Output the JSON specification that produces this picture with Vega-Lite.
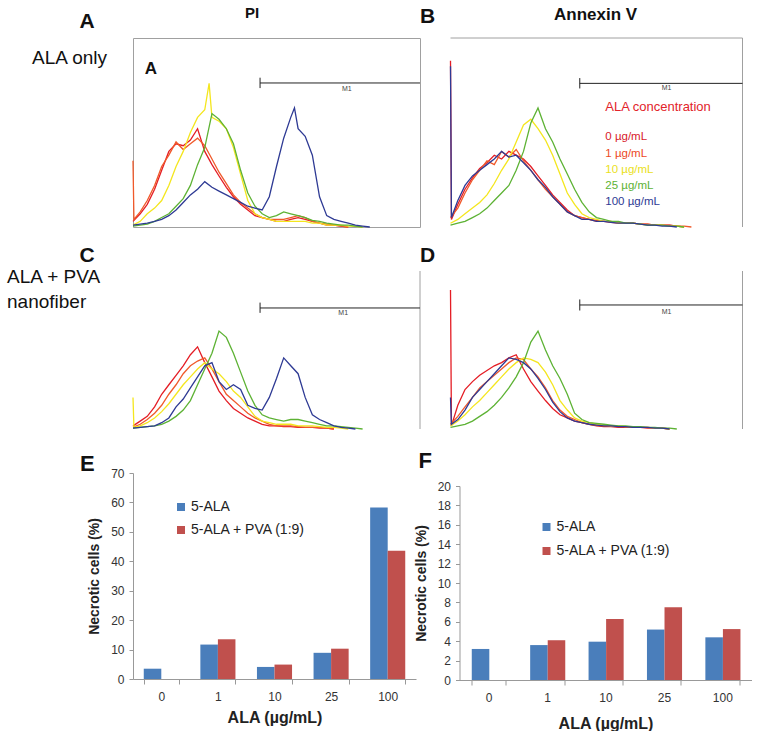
{
"background":"white",
"padding":{"left":7,"top":5,"right":0,"bottom":0},
"spacing":-7.5,
"config":{"font":"Liberation Sans","view":{"stroke":null},"axis":{"grid":false,"labelFont":"Liberation Sans","titleFont":"Liberation Sans"},"text":{"font":"Liberation Sans"},"title":{"font":"Liberation Sans"}},
"resolve":{"scale":{"color":"independent"},"legend":{"color":"independent"}},
"datasets":{
"h":[
{"p":"A","c":"0","x":1,"y":3},{"p":"A","c":"0","x":1.26,"y":7},{"p":"A","c":"0","x":1.58,"y":12},{"p":"A","c":"0","x":2,"y":20},{"p":"A","c":"0","x":2.51,"y":30},{"p":"A","c":"0","x":3.16,"y":40},{"p":"A","c":"0","x":3.98,"y":44},{"p":"A","c":"0","x":5.01,"y":43},{"p":"A","c":"0","x":6.31,"y":46},{"p":"A","c":"0","x":7.94,"y":52},{"p":"A","c":"0","x":10,"y":40},{"p":"A","c":"0","x":12.6,"y":33},{"p":"A","c":"0","x":15.8,"y":27},{"p":"A","c":"0","x":20,"y":21},{"p":"A","c":"0","x":25.1,"y":16},{"p":"A","c":"0","x":31.6,"y":12},{"p":"A","c":"0","x":39.8,"y":9},{"p":"A","c":"0","x":50.1,"y":6},{"p":"A","c":"0","x":63.1,"y":5},{"p":"A","c":"0","x":79.4,"y":4},{"p":"A","c":"0","x":100,"y":3},{"p":"A","c":"0","x":126,"y":3},{"p":"A","c":"0","x":158,"y":4},{"p":"A","c":"0","x":200,"y":5},{"p":"A","c":"0","x":251,"y":4},{"p":"A","c":"0","x":316,"y":3},{"p":"A","c":"0","x":398,"y":2},{"p":"A","c":"0","x":501,"y":1},{"p":"A","c":"0","x":631,"y":1},{"p":"A","c":"0","x":794,"y":0.5},{"p":"A","c":"0","x":1000,"y":0},
{"p":"A","c":"1","x":1,"y":35},{"p":"A","c":"1","x":1.03,"y":4},{"p":"A","c":"1","x":1.26,"y":8},{"p":"A","c":"1","x":1.58,"y":14},{"p":"A","c":"1","x":2,"y":22},{"p":"A","c":"1","x":2.51,"y":32},{"p":"A","c":"1","x":3.16,"y":38},{"p":"A","c":"1","x":3.98,"y":45},{"p":"A","c":"1","x":5.01,"y":41},{"p":"A","c":"1","x":6.31,"y":44},{"p":"A","c":"1","x":7.94,"y":47},{"p":"A","c":"1","x":10,"y":43},{"p":"A","c":"1","x":12.6,"y":36},{"p":"A","c":"1","x":15.8,"y":29},{"p":"A","c":"1","x":20,"y":23},{"p":"A","c":"1","x":25.1,"y":17},{"p":"A","c":"1","x":31.6,"y":13},{"p":"A","c":"1","x":39.8,"y":10},{"p":"A","c":"1","x":50.1,"y":7},{"p":"A","c":"1","x":63.1,"y":5},{"p":"A","c":"1","x":79.4,"y":4},{"p":"A","c":"1","x":100,"y":4},{"p":"A","c":"1","x":126,"y":4},{"p":"A","c":"1","x":158,"y":5},{"p":"A","c":"1","x":200,"y":6},{"p":"A","c":"1","x":251,"y":5},{"p":"A","c":"1","x":316,"y":3},{"p":"A","c":"1","x":398,"y":2},{"p":"A","c":"1","x":501,"y":1.5},{"p":"A","c":"1","x":631,"y":1},{"p":"A","c":"1","x":794,"y":0.5},{"p":"A","c":"1","x":1000,"y":0},
{"p":"A","c":"10","x":1,"y":1},{"p":"A","c":"10","x":1.26,"y":3},{"p":"A","c":"10","x":1.58,"y":7},{"p":"A","c":"10","x":2,"y":10},{"p":"A","c":"10","x":2.51,"y":14},{"p":"A","c":"10","x":3.16,"y":22},{"p":"A","c":"10","x":3.98,"y":32},{"p":"A","c":"10","x":5.01,"y":40},{"p":"A","c":"10","x":6.31,"y":50},{"p":"A","c":"10","x":7.94,"y":58},{"p":"A","c":"10","x":10,"y":62},{"p":"A","c":"10","x":11.5,"y":76},{"p":"A","c":"10","x":12.6,"y":58},{"p":"A","c":"10","x":15.8,"y":56},{"p":"A","c":"10","x":20,"y":52},{"p":"A","c":"10","x":25.1,"y":42},{"p":"A","c":"10","x":31.6,"y":28},{"p":"A","c":"10","x":39.8,"y":14},{"p":"A","c":"10","x":50.1,"y":7},{"p":"A","c":"10","x":63.1,"y":5},{"p":"A","c":"10","x":79.4,"y":4},{"p":"A","c":"10","x":100,"y":3},{"p":"A","c":"10","x":126,"y":3},{"p":"A","c":"10","x":158,"y":3},{"p":"A","c":"10","x":200,"y":3},{"p":"A","c":"10","x":251,"y":3},{"p":"A","c":"10","x":316,"y":2},{"p":"A","c":"10","x":398,"y":2},{"p":"A","c":"10","x":501,"y":1},{"p":"A","c":"10","x":631,"y":1},{"p":"A","c":"10","x":794,"y":1},{"p":"A","c":"10","x":1000,"y":0.5},{"p":"A","c":"10","x":1259,"y":0.3},{"p":"A","c":"10","x":1585,"y":0},
{"p":"A","c":"25","x":1,"y":0.5},{"p":"A","c":"25","x":1.26,"y":1},{"p":"A","c":"25","x":1.58,"y":1.5},{"p":"A","c":"25","x":2,"y":3},{"p":"A","c":"25","x":2.51,"y":5},{"p":"A","c":"25","x":3.16,"y":7},{"p":"A","c":"25","x":3.98,"y":11},{"p":"A","c":"25","x":5.01,"y":15},{"p":"A","c":"25","x":6.31,"y":22},{"p":"A","c":"25","x":7.94,"y":33},{"p":"A","c":"25","x":10,"y":42},{"p":"A","c":"25","x":12.6,"y":60},{"p":"A","c":"25","x":15.8,"y":57},{"p":"A","c":"25","x":20,"y":52},{"p":"A","c":"25","x":25.1,"y":44},{"p":"A","c":"25","x":31.6,"y":30},{"p":"A","c":"25","x":39.8,"y":18},{"p":"A","c":"25","x":50.1,"y":11},{"p":"A","c":"25","x":63.1,"y":7},{"p":"A","c":"25","x":79.4,"y":5},{"p":"A","c":"25","x":100,"y":6},{"p":"A","c":"25","x":126,"y":8},{"p":"A","c":"25","x":158,"y":7},{"p":"A","c":"25","x":200,"y":6},{"p":"A","c":"25","x":251,"y":5},{"p":"A","c":"25","x":316,"y":3.5},{"p":"A","c":"25","x":398,"y":3},{"p":"A","c":"25","x":501,"y":2},{"p":"A","c":"25","x":631,"y":1.5},{"p":"A","c":"25","x":794,"y":1},{"p":"A","c":"25","x":1000,"y":1},{"p":"A","c":"25","x":1259,"y":0.5},{"p":"A","c":"25","x":1585,"y":0},
{"p":"A","c":"100","x":1,"y":1},{"p":"A","c":"100","x":1.26,"y":1.5},{"p":"A","c":"100","x":1.58,"y":2},{"p":"A","c":"100","x":2,"y":3},{"p":"A","c":"100","x":2.51,"y":4},{"p":"A","c":"100","x":3.16,"y":6},{"p":"A","c":"100","x":3.98,"y":9},{"p":"A","c":"100","x":5.01,"y":13},{"p":"A","c":"100","x":6.31,"y":17},{"p":"A","c":"100","x":7.94,"y":20},{"p":"A","c":"100","x":10,"y":24},{"p":"A","c":"100","x":12.6,"y":21},{"p":"A","c":"100","x":15.8,"y":19},{"p":"A","c":"100","x":20,"y":17},{"p":"A","c":"100","x":25.1,"y":15},{"p":"A","c":"100","x":31.6,"y":13},{"p":"A","c":"100","x":39.8,"y":11},{"p":"A","c":"100","x":50.1,"y":10},{"p":"A","c":"100","x":63.1,"y":9},{"p":"A","c":"100","x":79.4,"y":16},{"p":"A","c":"100","x":100,"y":32},{"p":"A","c":"100","x":126,"y":47},{"p":"A","c":"100","x":158,"y":58},{"p":"A","c":"100","x":178,"y":63},{"p":"A","c":"100","x":200,"y":52},{"p":"A","c":"100","x":251,"y":48},{"p":"A","c":"100","x":316,"y":38},{"p":"A","c":"100","x":398,"y":16},{"p":"A","c":"100","x":501,"y":6},{"p":"A","c":"100","x":631,"y":4},{"p":"A","c":"100","x":794,"y":3},{"p":"A","c":"100","x":1000,"y":2},{"p":"A","c":"100","x":1259,"y":1},{"p":"A","c":"100","x":1585,"y":0.5},{"p":"A","c":"100","x":1995,"y":0},
{"p":"B","c":"0","x":1,"y":88},{"p":"B","c":"0","x":1.03,"y":4},{"p":"B","c":"0","x":1.26,"y":12},{"p":"B","c":"0","x":1.58,"y":20},{"p":"B","c":"0","x":2,"y":26},{"p":"B","c":"0","x":2.51,"y":31},{"p":"B","c":"0","x":3.16,"y":34},{"p":"B","c":"0","x":3.98,"y":38},{"p":"B","c":"0","x":5.01,"y":36},{"p":"B","c":"0","x":6.31,"y":40},{"p":"B","c":"0","x":7.94,"y":38},{"p":"B","c":"0","x":10,"y":36},{"p":"B","c":"0","x":12.6,"y":32},{"p":"B","c":"0","x":15.8,"y":27},{"p":"B","c":"0","x":20,"y":22},{"p":"B","c":"0","x":25.1,"y":17},{"p":"B","c":"0","x":31.6,"y":13},{"p":"B","c":"0","x":39.8,"y":9},{"p":"B","c":"0","x":50.1,"y":6},{"p":"B","c":"0","x":63.1,"y":5},{"p":"B","c":"0","x":79.4,"y":4},{"p":"B","c":"0","x":100,"y":3.5},{"p":"B","c":"0","x":126,"y":3},{"p":"B","c":"0","x":158,"y":2.5},{"p":"B","c":"0","x":200,"y":2},{"p":"B","c":"0","x":251,"y":2},{"p":"B","c":"0","x":316,"y":2},{"p":"B","c":"0","x":398,"y":1.5},{"p":"B","c":"0","x":501,"y":1.5},{"p":"B","c":"0","x":631,"y":1},{"p":"B","c":"0","x":794,"y":1},{"p":"B","c":"0","x":1000,"y":1},{"p":"B","c":"0","x":1259,"y":0.5},{"p":"B","c":"0","x":1585,"y":0},
{"p":"B","c":"1","x":1,"y":5},{"p":"B","c":"1","x":1.26,"y":10},{"p":"B","c":"1","x":1.58,"y":18},{"p":"B","c":"1","x":2,"y":25},{"p":"B","c":"1","x":2.51,"y":30},{"p":"B","c":"1","x":3.16,"y":35},{"p":"B","c":"1","x":3.98,"y":33},{"p":"B","c":"1","x":5.01,"y":40},{"p":"B","c":"1","x":6.31,"y":37},{"p":"B","c":"1","x":7.94,"y":41},{"p":"B","c":"1","x":10,"y":35},{"p":"B","c":"1","x":12.6,"y":30},{"p":"B","c":"1","x":15.8,"y":25},{"p":"B","c":"1","x":20,"y":20},{"p":"B","c":"1","x":25.1,"y":16},{"p":"B","c":"1","x":31.6,"y":12},{"p":"B","c":"1","x":39.8,"y":8},{"p":"B","c":"1","x":50.1,"y":6},{"p":"B","c":"1","x":63.1,"y":5},{"p":"B","c":"1","x":79.4,"y":4},{"p":"B","c":"1","x":100,"y":3},{"p":"B","c":"1","x":126,"y":3},{"p":"B","c":"1","x":158,"y":3},{"p":"B","c":"1","x":200,"y":2},{"p":"B","c":"1","x":251,"y":2},{"p":"B","c":"1","x":316,"y":2},{"p":"B","c":"1","x":398,"y":1.5},{"p":"B","c":"1","x":501,"y":1.5},{"p":"B","c":"1","x":631,"y":1},{"p":"B","c":"1","x":794,"y":1},{"p":"B","c":"1","x":1000,"y":1},{"p":"B","c":"1","x":1259,"y":0.5},{"p":"B","c":"1","x":1585,"y":0.5},{"p":"B","c":"1","x":1995,"y":0},
{"p":"B","c":"10","x":1,"y":2},{"p":"B","c":"10","x":1.26,"y":4},{"p":"B","c":"10","x":1.58,"y":7},{"p":"B","c":"10","x":2,"y":10},{"p":"B","c":"10","x":2.51,"y":13},{"p":"B","c":"10","x":3.16,"y":17},{"p":"B","c":"10","x":3.98,"y":23},{"p":"B","c":"10","x":5.01,"y":30},{"p":"B","c":"10","x":6.31,"y":36},{"p":"B","c":"10","x":7.94,"y":45},{"p":"B","c":"10","x":10,"y":54},{"p":"B","c":"10","x":12.6,"y":57},{"p":"B","c":"10","x":15.8,"y":52},{"p":"B","c":"10","x":20,"y":46},{"p":"B","c":"10","x":25.1,"y":38},{"p":"B","c":"10","x":31.6,"y":28},{"p":"B","c":"10","x":39.8,"y":18},{"p":"B","c":"10","x":50.1,"y":12},{"p":"B","c":"10","x":63.1,"y":7},{"p":"B","c":"10","x":79.4,"y":5},{"p":"B","c":"10","x":100,"y":4},{"p":"B","c":"10","x":126,"y":3},{"p":"B","c":"10","x":158,"y":3},{"p":"B","c":"10","x":200,"y":2},{"p":"B","c":"10","x":251,"y":2},{"p":"B","c":"10","x":316,"y":2},{"p":"B","c":"10","x":398,"y":1.5},{"p":"B","c":"10","x":501,"y":1},{"p":"B","c":"10","x":631,"y":1},{"p":"B","c":"10","x":794,"y":1},{"p":"B","c":"10","x":1000,"y":0.5},{"p":"B","c":"10","x":1259,"y":0.5},{"p":"B","c":"10","x":1585,"y":0},
{"p":"B","c":"25","x":1,"y":1},{"p":"B","c":"25","x":1.26,"y":2},{"p":"B","c":"25","x":1.58,"y":3},{"p":"B","c":"25","x":2,"y":5},{"p":"B","c":"25","x":2.51,"y":7},{"p":"B","c":"25","x":3.16,"y":10},{"p":"B","c":"25","x":3.98,"y":14},{"p":"B","c":"25","x":5.01,"y":18},{"p":"B","c":"25","x":6.31,"y":22},{"p":"B","c":"25","x":7.94,"y":30},{"p":"B","c":"25","x":10,"y":40},{"p":"B","c":"25","x":12.6,"y":55},{"p":"B","c":"25","x":15.8,"y":63},{"p":"B","c":"25","x":20,"y":52},{"p":"B","c":"25","x":25.1,"y":45},{"p":"B","c":"25","x":31.6,"y":36},{"p":"B","c":"25","x":39.8,"y":28},{"p":"B","c":"25","x":50.1,"y":20},{"p":"B","c":"25","x":63.1,"y":13},{"p":"B","c":"25","x":79.4,"y":8},{"p":"B","c":"25","x":100,"y":5},{"p":"B","c":"25","x":126,"y":4},{"p":"B","c":"25","x":158,"y":3},{"p":"B","c":"25","x":200,"y":3},{"p":"B","c":"25","x":251,"y":2},{"p":"B","c":"25","x":316,"y":2},{"p":"B","c":"25","x":398,"y":1.5},{"p":"B","c":"25","x":501,"y":1},{"p":"B","c":"25","x":631,"y":1},{"p":"B","c":"25","x":794,"y":1},{"p":"B","c":"25","x":1000,"y":0.5},{"p":"B","c":"25","x":1259,"y":0.5},{"p":"B","c":"25","x":1585,"y":0},
{"p":"B","c":"100","x":1,"y":85},{"p":"B","c":"100","x":1.03,"y":5},{"p":"B","c":"100","x":1.26,"y":14},{"p":"B","c":"100","x":1.58,"y":22},{"p":"B","c":"100","x":2,"y":27},{"p":"B","c":"100","x":2.51,"y":30},{"p":"B","c":"100","x":3.16,"y":33},{"p":"B","c":"100","x":3.98,"y":36},{"p":"B","c":"100","x":5.01,"y":40},{"p":"B","c":"100","x":6.31,"y":37},{"p":"B","c":"100","x":7.94,"y":38},{"p":"B","c":"100","x":10,"y":34},{"p":"B","c":"100","x":12.6,"y":30},{"p":"B","c":"100","x":15.8,"y":25},{"p":"B","c":"100","x":20,"y":21},{"p":"B","c":"100","x":25.1,"y":16},{"p":"B","c":"100","x":31.6,"y":12},{"p":"B","c":"100","x":39.8,"y":8},{"p":"B","c":"100","x":50.1,"y":6},{"p":"B","c":"100","x":63.1,"y":4},{"p":"B","c":"100","x":79.4,"y":4},{"p":"B","c":"100","x":100,"y":3},{"p":"B","c":"100","x":126,"y":3},{"p":"B","c":"100","x":158,"y":2.5},{"p":"B","c":"100","x":200,"y":2},{"p":"B","c":"100","x":251,"y":2},{"p":"B","c":"100","x":316,"y":2},{"p":"B","c":"100","x":398,"y":1.5},{"p":"B","c":"100","x":501,"y":1},{"p":"B","c":"100","x":631,"y":1},{"p":"B","c":"100","x":794,"y":0.5},{"p":"B","c":"100","x":1000,"y":0.5},{"p":"B","c":"100","x":1259,"y":0},
{"p":"C","c":"0","x":1,"y":2},{"p":"C","c":"0","x":1.26,"y":5},{"p":"C","c":"0","x":1.58,"y":8},{"p":"C","c":"0","x":2,"y":14},{"p":"C","c":"0","x":2.51,"y":22},{"p":"C","c":"0","x":3.16,"y":28},{"p":"C","c":"0","x":3.98,"y":34},{"p":"C","c":"0","x":5.01,"y":40},{"p":"C","c":"0","x":6.31,"y":47},{"p":"C","c":"0","x":7.94,"y":52},{"p":"C","c":"0","x":10,"y":42},{"p":"C","c":"0","x":12.6,"y":33},{"p":"C","c":"0","x":15.8,"y":24},{"p":"C","c":"0","x":20,"y":18},{"p":"C","c":"0","x":25.1,"y":13},{"p":"C","c":"0","x":31.6,"y":10},{"p":"C","c":"0","x":39.8,"y":7},{"p":"C","c":"0","x":50.1,"y":5},{"p":"C","c":"0","x":63.1,"y":3},{"p":"C","c":"0","x":79.4,"y":2},{"p":"C","c":"0","x":100,"y":2},{"p":"C","c":"0","x":126,"y":1.5},{"p":"C","c":"0","x":158,"y":1.5},{"p":"C","c":"0","x":200,"y":1},{"p":"C","c":"0","x":251,"y":1},{"p":"C","c":"0","x":316,"y":1},{"p":"C","c":"0","x":398,"y":0.5},{"p":"C","c":"0","x":501,"y":0.5},{"p":"C","c":"0","x":631,"y":0},
{"p":"C","c":"1","x":1,"y":1},{"p":"C","c":"1","x":1.26,"y":3},{"p":"C","c":"1","x":1.58,"y":6},{"p":"C","c":"1","x":2,"y":10},{"p":"C","c":"1","x":2.51,"y":15},{"p":"C","c":"1","x":3.16,"y":22},{"p":"C","c":"1","x":3.98,"y":28},{"p":"C","c":"1","x":5.01,"y":35},{"p":"C","c":"1","x":6.31,"y":40},{"p":"C","c":"1","x":7.94,"y":43},{"p":"C","c":"1","x":10,"y":45},{"p":"C","c":"1","x":12.6,"y":38},{"p":"C","c":"1","x":15.8,"y":30},{"p":"C","c":"1","x":20,"y":22},{"p":"C","c":"1","x":25.1,"y":18},{"p":"C","c":"1","x":31.6,"y":14},{"p":"C","c":"1","x":39.8,"y":10},{"p":"C","c":"1","x":50.1,"y":7},{"p":"C","c":"1","x":63.1,"y":5},{"p":"C","c":"1","x":79.4,"y":3},{"p":"C","c":"1","x":100,"y":2},{"p":"C","c":"1","x":126,"y":2},{"p":"C","c":"1","x":158,"y":2},{"p":"C","c":"1","x":200,"y":1.5},{"p":"C","c":"1","x":251,"y":1},{"p":"C","c":"1","x":316,"y":1},{"p":"C","c":"1","x":398,"y":1},{"p":"C","c":"1","x":501,"y":0.5},{"p":"C","c":"1","x":631,"y":0},
{"p":"C","c":"10","x":1,"y":20},{"p":"C","c":"10","x":1.03,"y":1},{"p":"C","c":"10","x":1.26,"y":2},{"p":"C","c":"10","x":1.58,"y":4},{"p":"C","c":"10","x":2,"y":7},{"p":"C","c":"10","x":2.51,"y":11},{"p":"C","c":"10","x":3.16,"y":16},{"p":"C","c":"10","x":3.98,"y":22},{"p":"C","c":"10","x":5.01,"y":28},{"p":"C","c":"10","x":6.31,"y":33},{"p":"C","c":"10","x":7.94,"y":38},{"p":"C","c":"10","x":10,"y":42},{"p":"C","c":"10","x":12.6,"y":38},{"p":"C","c":"10","x":15.8,"y":35},{"p":"C","c":"10","x":20,"y":30},{"p":"C","c":"10","x":25.1,"y":24},{"p":"C","c":"10","x":31.6,"y":20},{"p":"C","c":"10","x":39.8,"y":14},{"p":"C","c":"10","x":50.1,"y":8},{"p":"C","c":"10","x":63.1,"y":5},{"p":"C","c":"10","x":79.4,"y":4},{"p":"C","c":"10","x":100,"y":3},{"p":"C","c":"10","x":126,"y":3},{"p":"C","c":"10","x":158,"y":3},{"p":"C","c":"10","x":200,"y":2},{"p":"C","c":"10","x":251,"y":2},{"p":"C","c":"10","x":316,"y":2},{"p":"C","c":"10","x":398,"y":1.5},{"p":"C","c":"10","x":501,"y":1},{"p":"C","c":"10","x":631,"y":1},{"p":"C","c":"10","x":794,"y":0.5},{"p":"C","c":"10","x":1000,"y":0},
{"p":"C","c":"25","x":1,"y":0.5},{"p":"C","c":"25","x":1.26,"y":1},{"p":"C","c":"25","x":1.58,"y":1.5},{"p":"C","c":"25","x":2,"y":2},{"p":"C","c":"25","x":2.51,"y":3},{"p":"C","c":"25","x":3.16,"y":5},{"p":"C","c":"25","x":3.98,"y":8},{"p":"C","c":"25","x":5.01,"y":12},{"p":"C","c":"25","x":6.31,"y":18},{"p":"C","c":"25","x":7.94,"y":28},{"p":"C","c":"25","x":10,"y":38},{"p":"C","c":"25","x":12.6,"y":48},{"p":"C","c":"25","x":15.8,"y":62},{"p":"C","c":"25","x":20,"y":58},{"p":"C","c":"25","x":25.1,"y":48},{"p":"C","c":"25","x":31.6,"y":36},{"p":"C","c":"25","x":39.8,"y":24},{"p":"C","c":"25","x":50.1,"y":15},{"p":"C","c":"25","x":63.1,"y":9},{"p":"C","c":"25","x":79.4,"y":7},{"p":"C","c":"25","x":100,"y":6},{"p":"C","c":"25","x":126,"y":5},{"p":"C","c":"25","x":158,"y":6},{"p":"C","c":"25","x":200,"y":6},{"p":"C","c":"25","x":251,"y":5},{"p":"C","c":"25","x":316,"y":4},{"p":"C","c":"25","x":398,"y":3},{"p":"C","c":"25","x":501,"y":2},{"p":"C","c":"25","x":631,"y":2},{"p":"C","c":"25","x":794,"y":1.5},{"p":"C","c":"25","x":1000,"y":1},{"p":"C","c":"25","x":1259,"y":0.5},{"p":"C","c":"25","x":1585,"y":0},
{"p":"C","c":"100","x":1,"y":0.5},{"p":"C","c":"100","x":1.26,"y":1},{"p":"C","c":"100","x":1.58,"y":1.5},{"p":"C","c":"100","x":2,"y":2},{"p":"C","c":"100","x":2.51,"y":4},{"p":"C","c":"100","x":3.16,"y":7},{"p":"C","c":"100","x":3.98,"y":14},{"p":"C","c":"100","x":5.01,"y":19},{"p":"C","c":"100","x":6.31,"y":26},{"p":"C","c":"100","x":7.94,"y":33},{"p":"C","c":"100","x":10,"y":40},{"p":"C","c":"100","x":12.6,"y":42},{"p":"C","c":"100","x":15.8,"y":30},{"p":"C","c":"100","x":20,"y":25},{"p":"C","c":"100","x":25.1,"y":28},{"p":"C","c":"100","x":31.6,"y":25},{"p":"C","c":"100","x":39.8,"y":15},{"p":"C","c":"100","x":50.1,"y":13},{"p":"C","c":"100","x":63.1,"y":12},{"p":"C","c":"100","x":79.4,"y":20},{"p":"C","c":"100","x":100,"y":32},{"p":"C","c":"100","x":126,"y":45},{"p":"C","c":"100","x":158,"y":40},{"p":"C","c":"100","x":200,"y":35},{"p":"C","c":"100","x":251,"y":20},{"p":"C","c":"100","x":316,"y":9},{"p":"C","c":"100","x":398,"y":6},{"p":"C","c":"100","x":501,"y":4},{"p":"C","c":"100","x":631,"y":2},{"p":"C","c":"100","x":794,"y":1},{"p":"C","c":"100","x":1000,"y":0.5},{"p":"C","c":"100","x":1259,"y":0},
{"p":"D","c":"0","x":1,"y":88},{"p":"D","c":"0","x":1.03,"y":2},{"p":"D","c":"0","x":1.26,"y":15},{"p":"D","c":"0","x":1.58,"y":25},{"p":"D","c":"0","x":2,"y":30},{"p":"D","c":"0","x":2.51,"y":34},{"p":"D","c":"0","x":3.16,"y":37},{"p":"D","c":"0","x":3.98,"y":40},{"p":"D","c":"0","x":5.01,"y":42},{"p":"D","c":"0","x":6.31,"y":45},{"p":"D","c":"0","x":7.94,"y":47},{"p":"D","c":"0","x":10,"y":38},{"p":"D","c":"0","x":12.6,"y":30},{"p":"D","c":"0","x":15.8,"y":24},{"p":"D","c":"0","x":20,"y":18},{"p":"D","c":"0","x":25.1,"y":13},{"p":"D","c":"0","x":31.6,"y":9},{"p":"D","c":"0","x":39.8,"y":7},{"p":"D","c":"0","x":50.1,"y":5},{"p":"D","c":"0","x":63.1,"y":4},{"p":"D","c":"0","x":79.4,"y":3},{"p":"D","c":"0","x":100,"y":2},{"p":"D","c":"0","x":126,"y":1.5},{"p":"D","c":"0","x":158,"y":1.5},{"p":"D","c":"0","x":200,"y":1},{"p":"D","c":"0","x":251,"y":1},{"p":"D","c":"0","x":316,"y":1},{"p":"D","c":"0","x":398,"y":1},{"p":"D","c":"0","x":501,"y":0.5},{"p":"D","c":"0","x":631,"y":0.5},{"p":"D","c":"0","x":794,"y":0.5},{"p":"D","c":"0","x":1000,"y":0},
{"p":"D","c":"1","x":1,"y":3},{"p":"D","c":"1","x":1.26,"y":8},{"p":"D","c":"1","x":1.58,"y":14},{"p":"D","c":"1","x":2,"y":20},{"p":"D","c":"1","x":2.51,"y":26},{"p":"D","c":"1","x":3.16,"y":30},{"p":"D","c":"1","x":3.98,"y":34},{"p":"D","c":"1","x":5.01,"y":38},{"p":"D","c":"1","x":6.31,"y":42},{"p":"D","c":"1","x":7.94,"y":45},{"p":"D","c":"1","x":10,"y":44},{"p":"D","c":"1","x":12.6,"y":38},{"p":"D","c":"1","x":15.8,"y":33},{"p":"D","c":"1","x":20,"y":26},{"p":"D","c":"1","x":25.1,"y":18},{"p":"D","c":"1","x":31.6,"y":12},{"p":"D","c":"1","x":39.8,"y":8},{"p":"D","c":"1","x":50.1,"y":6},{"p":"D","c":"1","x":63.1,"y":4},{"p":"D","c":"1","x":79.4,"y":3},{"p":"D","c":"1","x":100,"y":2.5},{"p":"D","c":"1","x":126,"y":2},{"p":"D","c":"1","x":158,"y":2},{"p":"D","c":"1","x":200,"y":1.5},{"p":"D","c":"1","x":251,"y":1.5},{"p":"D","c":"1","x":316,"y":1},{"p":"D","c":"1","x":398,"y":1},{"p":"D","c":"1","x":501,"y":1},{"p":"D","c":"1","x":631,"y":0.5},{"p":"D","c":"1","x":794,"y":0.5},{"p":"D","c":"1","x":1000,"y":0},
{"p":"D","c":"10","x":1,"y":2},{"p":"D","c":"10","x":1.26,"y":5},{"p":"D","c":"10","x":1.58,"y":9},{"p":"D","c":"10","x":2,"y":14},{"p":"D","c":"10","x":2.51,"y":18},{"p":"D","c":"10","x":3.16,"y":23},{"p":"D","c":"10","x":3.98,"y":28},{"p":"D","c":"10","x":5.01,"y":33},{"p":"D","c":"10","x":6.31,"y":38},{"p":"D","c":"10","x":7.94,"y":42},{"p":"D","c":"10","x":10,"y":45},{"p":"D","c":"10","x":12.6,"y":44},{"p":"D","c":"10","x":15.8,"y":42},{"p":"D","c":"10","x":20,"y":36},{"p":"D","c":"10","x":25.1,"y":28},{"p":"D","c":"10","x":31.6,"y":18},{"p":"D","c":"10","x":39.8,"y":12},{"p":"D","c":"10","x":50.1,"y":7},{"p":"D","c":"10","x":63.1,"y":5},{"p":"D","c":"10","x":79.4,"y":4},{"p":"D","c":"10","x":100,"y":3},{"p":"D","c":"10","x":126,"y":2.5},{"p":"D","c":"10","x":158,"y":2},{"p":"D","c":"10","x":200,"y":2},{"p":"D","c":"10","x":251,"y":1.5},{"p":"D","c":"10","x":316,"y":1.5},{"p":"D","c":"10","x":398,"y":1},{"p":"D","c":"10","x":501,"y":1},{"p":"D","c":"10","x":631,"y":0.5},{"p":"D","c":"10","x":794,"y":0.5},{"p":"D","c":"10","x":1000,"y":0},
{"p":"D","c":"25","x":1,"y":1},{"p":"D","c":"25","x":1.26,"y":2},{"p":"D","c":"25","x":1.58,"y":3},{"p":"D","c":"25","x":2,"y":5},{"p":"D","c":"25","x":2.51,"y":8},{"p":"D","c":"25","x":3.16,"y":11},{"p":"D","c":"25","x":3.98,"y":15},{"p":"D","c":"25","x":5.01,"y":20},{"p":"D","c":"25","x":6.31,"y":26},{"p":"D","c":"25","x":7.94,"y":33},{"p":"D","c":"25","x":10,"y":42},{"p":"D","c":"25","x":12.6,"y":55},{"p":"D","c":"25","x":15.8,"y":62},{"p":"D","c":"25","x":20,"y":50},{"p":"D","c":"25","x":25.1,"y":40},{"p":"D","c":"25","x":31.6,"y":32},{"p":"D","c":"25","x":39.8,"y":22},{"p":"D","c":"25","x":50.1,"y":10},{"p":"D","c":"25","x":63.1,"y":6},{"p":"D","c":"25","x":79.4,"y":4},{"p":"D","c":"25","x":100,"y":3.5},{"p":"D","c":"25","x":126,"y":3},{"p":"D","c":"25","x":158,"y":2.5},{"p":"D","c":"25","x":200,"y":2},{"p":"D","c":"25","x":251,"y":2},{"p":"D","c":"25","x":316,"y":1.5},{"p":"D","c":"25","x":398,"y":1.5},{"p":"D","c":"25","x":501,"y":1},{"p":"D","c":"25","x":631,"y":1},{"p":"D","c":"25","x":794,"y":0.5},{"p":"D","c":"25","x":1000,"y":0.5},{"p":"D","c":"25","x":1259,"y":0},
{"p":"D","c":"100","x":1,"y":20},{"p":"D","c":"100","x":1.03,"y":3},{"p":"D","c":"100","x":1.26,"y":6},{"p":"D","c":"100","x":1.58,"y":12},{"p":"D","c":"100","x":2,"y":20},{"p":"D","c":"100","x":2.51,"y":25},{"p":"D","c":"100","x":3.16,"y":30},{"p":"D","c":"100","x":3.98,"y":35},{"p":"D","c":"100","x":5.01,"y":40},{"p":"D","c":"100","x":6.31,"y":45},{"p":"D","c":"100","x":7.94,"y":44},{"p":"D","c":"100","x":10,"y":42},{"p":"D","c":"100","x":12.6,"y":38},{"p":"D","c":"100","x":15.8,"y":32},{"p":"D","c":"100","x":20,"y":25},{"p":"D","c":"100","x":25.1,"y":17},{"p":"D","c":"100","x":31.6,"y":11},{"p":"D","c":"100","x":39.8,"y":7},{"p":"D","c":"100","x":50.1,"y":5},{"p":"D","c":"100","x":63.1,"y":4},{"p":"D","c":"100","x":79.4,"y":3},{"p":"D","c":"100","x":100,"y":2.5},{"p":"D","c":"100","x":126,"y":2},{"p":"D","c":"100","x":158,"y":2},{"p":"D","c":"100","x":200,"y":1.5},{"p":"D","c":"100","x":251,"y":1.5},{"p":"D","c":"100","x":316,"y":1},{"p":"D","c":"100","x":398,"y":1},{"p":"D","c":"100","x":501,"y":1},{"p":"D","c":"100","x":631,"y":0.5},{"p":"D","c":"100","x":794,"y":0.5},{"p":"D","c":"100","x":1000,"y":0}
],
"bars":[
{"p":"E","a":"0","g":"5-ALA","v":3.5},
{"p":"E","a":"1","g":"5-ALA","v":11.7},{"p":"E","a":"1","g":"5-ALA + PVA (1:9)","v":13.5},
{"p":"E","a":"10","g":"5-ALA","v":4.1},{"p":"E","a":"10","g":"5-ALA + PVA (1:9)","v":4.9},
{"p":"E","a":"25","g":"5-ALA","v":8.9},{"p":"E","a":"25","g":"5-ALA + PVA (1:9)","v":10.3},
{"p":"E","a":"100","g":"5-ALA","v":58.3},{"p":"E","a":"100","g":"5-ALA + PVA (1:9)","v":43.6},
{"p":"F","a":"0","g":"5-ALA","v":3.2},
{"p":"F","a":"1","g":"5-ALA","v":3.6},{"p":"F","a":"1","g":"5-ALA + PVA (1:9)","v":4.1},
{"p":"F","a":"10","g":"5-ALA","v":3.95},{"p":"F","a":"10","g":"5-ALA + PVA (1:9)","v":6.3},
{"p":"F","a":"25","g":"5-ALA","v":5.2},{"p":"F","a":"25","g":"5-ALA + PVA (1:9)","v":7.5},
{"p":"F","a":"100","g":"5-ALA","v":4.4},{"p":"F","a":"100","g":"5-ALA + PVA (1:9)","v":5.25}
]
},
"hconcat":[
{"vconcat":[
{"width":287,"height":189,"view":{"stroke":"#a0a0a0"},
"layer":[
{"data":{"name":"h"},"transform":[{"filter":"datum.p=='A'"}],
"mark":{"type":"line","strokeWidth":1.3},
"encoding":{
"x":{"field":"x","type":"quantitative","scale":{"type":"log","domain":[1,10000],"nice":false},"axis":{"values":[1,2,3,4,5,6,7,8,9,10,20,30,40,50,60,70,80,90,100,200,300,400,500,600,700,800,900,1000,2000,3000,4000,5000,6000,7000,8000,9000,10000],"labelExpr":"datum.value==1?'10⁰':datum.value==10?'10¹':datum.value==100?'10²':datum.value==1000?'10³':datum.value==10000?'10⁴':''","tickSize":{"condition":{"test":"indexof([1,10,100,1000,10000],datum.value)>=0","value":4},"value":2},"labelOverlap":false,"labelFlush":false,"labelFontSize":10,"labelColor":"#333","labelPadding":2,"domainColor":"#444","tickColor":"#444","title":"PI","titleFontSize":14,"titleFontWeight":"bold","titleColor":"#222","titlePadding":5}},
"y":{"field":"y","type":"quantitative","scale":{"domain":[0,100],"nice":false},"axis":{"values":[0,20,40,60,80,100],"tickSize":4,"labelAngle":-90,"labelAlign":"center","labelBaseline":"bottom","labelOverlap":false,"labelFontSize":10,"labelColor":"#333","labelPadding":2,"domainColor":"#444","tickColor":"#444","title":"Counts","titleFontSize":11,"titleFontWeight":"bold","titleColor":"#222","titlePadding":11}},
"color":{"field":"c","type":"nominal","scale":{"domain":["0","1","10","25","100"],"range":["#e41d25","#f0592a","#f4e61e","#5db234","#2e3a94"]},"legend":null}}},
{"data":{"values":[{}]},"mark":{"type":"rule","color":"#222","strokeWidth":1},"encoding":{"x":{"datum":59,"axis":null},"x2":{"datum":10000},"y":{"datum":76.2,"axis":null}}},
{"data":{"values":[{}]},"mark":{"type":"rule","color":"#222","strokeWidth":1},"encoding":{"x":{"datum":59,"axis":null},"y":{"datum":73.5,"axis":null},"y2":{"datum":79}}},
{"data":{"values":[{}]},"mark":{"type":"text","text":"M1","fontSize":7,"color":"#444","align":"center","baseline":"alphabetic"},"encoding":{"x":{"datum":955,"axis":null},"y":{"datum":72,"axis":null}}},
{"data":{"values":[{}]},"mark":{"type":"text","text":"A","fontSize":21,"fontWeight":"bold","color":"#111","align":"center","baseline":"alphabetic"},"encoding":{"x":{"datum":0.229,"axis":null},"y":{"datum":105.3,"axis":null}}},
{"data":{"values":[{}]},"mark":{"type":"text","text":"PI","fontSize":15,"fontWeight":"bold","color":"#111","align":"center","baseline":"alphabetic"},"encoding":{"x":{"datum":45.7,"axis":null},"y":{"datum":110.6,"axis":null}}},
{"data":{"values":[{}]},"mark":{"type":"text","text":"ALA only","fontSize":19,"color":"#111","align":"left","baseline":"alphabetic"},"encoding":{"x":{"datum":0.0391,"axis":null},"y":{"datum":86.2,"axis":null}}},
{"data":{"values":[{}]},"mark":{"type":"text","text":"A","fontSize":17,"fontWeight":"bold","color":"#111","align":"center","baseline":"alphabetic"},"encoding":{"x":{"datum":1.78,"axis":null},"y":{"datum":81,"axis":null}}}
]},
{"width":287,"height":158,
"layer":[
{"data":{"name":"h"},"transform":[{"filter":"datum.p=='C'"}],
"mark":{"type":"line","strokeWidth":1.3},
"encoding":{
"x":{"field":"x","type":"quantitative","scale":{"type":"log","domain":[1,10000],"nice":false},"axis":{"values":[1,2,3,4,5,6,7,8,9,10,20,30,40,50,60,70,80,90,100,200,300,400,500,600,700,800,900,1000,2000,3000,4000,5000,6000,7000,8000,9000,10000],"labelExpr":"datum.value==1?'10⁰':datum.value==10?'10¹':datum.value==100?'10²':datum.value==1000?'10³':datum.value==10000?'10⁴':''","tickSize":{"condition":{"test":"indexof([1,10,100,1000,10000],datum.value)>=0","value":4},"value":2},"labelOverlap":false,"labelFlush":false,"labelFontSize":10,"labelColor":"#333","labelPadding":2,"domainColor":"#444","tickColor":"#444","title":"PI","titleFontSize":14,"titleFontWeight":"bold","titleColor":"#222","titlePadding":5}},
"y":{"field":"y","type":"quantitative","scale":{"domain":[0,100],"nice":false},"axis":{"values":[0,20,40,60,80,100],"tickSize":4,"labelAngle":-90,"labelAlign":"center","labelBaseline":"bottom","labelOverlap":false,"labelFontSize":10,"labelColor":"#333","labelPadding":2,"domainColor":"#444","tickColor":"#444","title":"Counts","titleFontSize":11,"titleFontWeight":"bold","titleColor":"#222","titlePadding":11}},
"color":{"field":"c","type":"nominal","scale":{"domain":["0","1","10","25","100"],"range":["#e41d25","#f0592a","#f4e61e","#5db234","#2e3a94"]},"legend":null}}},
{"data":{"values":[{}]},"mark":{"type":"rule","color":"#a0a0a0","strokeWidth":1},"encoding":{"x":{"datum":10000,"axis":null}}},
{"data":{"values":[{}]},"mark":{"type":"rule","color":"#222","strokeWidth":1},"encoding":{"x":{"datum":59,"axis":null},"x2":{"datum":10000},"y":{"datum":76.6,"axis":null}}},
{"data":{"values":[{}]},"mark":{"type":"rule","color":"#222","strokeWidth":1},"encoding":{"x":{"datum":59,"axis":null},"y":{"datum":73.5,"axis":null},"y2":{"datum":80}}},
{"data":{"values":[{}]},"mark":{"type":"text","text":"M1","fontSize":7,"color":"#444","align":"center","baseline":"alphabetic"},"encoding":{"x":{"datum":850,"axis":null},"y":{"datum":72,"axis":null}}},
{"data":{"values":[{}]},"mark":{"type":"text","text":"C","fontSize":21,"fontWeight":"bold","color":"#111","align":"center","baseline":"alphabetic"},"encoding":{"x":{"datum":0.229,"axis":null},"y":{"datum":105.5,"axis":null}}},
{"data":{"values":[{}]},"mark":{"type":"text","text":"ALA + PVA","fontSize":19,"color":"#111","align":"left","baseline":"alphabetic"},"encoding":{"x":{"datum":0.01754,"axis":null},"y":{"datum":92.5,"axis":null}}},
{"data":{"values":[{}]},"mark":{"type":"text","text":"nanofiber","fontSize":19,"color":"#111","align":"left","baseline":"alphabetic"},"encoding":{"x":{"datum":0.01754,"axis":null},"y":{"datum":76.3,"axis":null}}}
]},
{"width":283,"height":206,
"data":{"name":"bars"},"transform":[{"filter":"datum.p=='E'"}],
"title":{"text":"E","anchor":"start","frame":"group","fontSize":22,"fontWeight":"bold","color":"#111","dx":-53,"offset":-26,"baseline":"alphabetic"},
"mark":{"type":"bar"},
"encoding":{
"x":{"field":"a","type":"nominal","sort":["0","1","10","25","100"],"scale":{"paddingInner":0.38,"paddingOuter":0.19},"axis":{"title":"ALA (µg/mL)","titleFontSize":16,"titleFontWeight":"bold","titleColor":"#222","labelFontSize":12,"labelColor":"#333","labelAngle":0,"tickBand":"extent","tickSize":5,"labelPadding":7,"domainColor":"#999","tickColor":"#999","titlePadding":7}},
"xOffset":{"field":"g","type":"nominal","sort":["5-ALA","5-ALA + PVA (1:9)"]},
"y":{"field":"v","type":"quantitative","scale":{"domain":[0,70],"nice":false},"axis":{"values":[0,10,20,30,40,50,60,70],"title":"Necrotic cells (%)","titleFontSize":14,"titleFontWeight":"bold","titleColor":"#222","labelFontSize":12,"labelColor":"#333","tickSize":4,"labelPadding":5,"domainColor":"#999","tickColor":"#999","titlePadding":9}},
"color":{"field":"g","type":"nominal","sort":["5-ALA","5-ALA + PVA (1:9)"],"scale":{"domain":["5-ALA","5-ALA + PVA (1:9)"],"range":["#4a7ebb","#c0504d"]},"legend":{"orient":"none","legendX":41,"legendY":27,"title":null,"symbolType":"square","symbolSize":64,"symbolStrokeWidth":0,"labelFontSize":14,"labelColor":"#222","rowPadding":9,"labelOffset":3}}}}
],"spacing":44,"bounds":"flush","resolve":{"scale":{"color":"independent"},"legend":{"color":"independent"}}},
{"vconcat":[
{"width":292,"height":189,
"layer":[
{"data":{"name":"h"},"transform":[{"filter":"datum.p=='B'"}],
"mark":{"type":"line","strokeWidth":1.3},
"encoding":{
"x":{"field":"x","type":"quantitative","scale":{"type":"log","domain":[1,10000],"nice":false,"range":[-9,283]},"axis":{"values":[1,2,3,4,5,6,7,8,9,10,20,30,40,50,60,70,80,90,100,200,300,400,500,600,700,800,900,1000,2000,3000,4000,5000,6000,7000,8000,9000,10000],"labelExpr":"datum.value==1?'10⁰':datum.value==10?'10¹':datum.value==100?'10²':datum.value==1000?'10³':datum.value==10000?'10⁴':''","tickSize":{"condition":{"test":"indexof([1,10,100,1000,10000],datum.value)>=0","value":4},"value":2},"labelOverlap":false,"labelFlush":false,"labelFontSize":10,"labelColor":"#333","labelPadding":2,"domainColor":"#444","tickColor":"#444","title":"Annexin V","titleFontSize":14,"titleFontWeight":"bold","titleColor":"#222","titlePadding":5}},
"y":{"field":"y","type":"quantitative","scale":{"domain":[0,100],"nice":false},"axis":{"offset":9,"values":[0,20,40,60,80,100],"tickSize":4,"labelAngle":-90,"labelAlign":"center","labelBaseline":"bottom","labelOverlap":false,"labelFontSize":10,"labelColor":"#333","labelPadding":2,"domainColor":"#444","tickColor":"#444","title":"Counts","titleFontSize":11,"titleFontWeight":"bold","titleColor":"#222","titlePadding":5}},
"color":{"field":"c","type":"nominal","scale":{"domain":["0","1","10","25","100"],"range":["#e41d25","#f0592a","#f4e61e","#5db234","#2e3a94"]},"legend":null}}},
{"data":{"values":[{}]},"mark":{"type":"rule","color":"#a0a0a0","strokeWidth":1},"encoding":{"x":{"datum":10000,"axis":null}}},
{"data":{"values":[{}]},"mark":{"type":"rule","color":"#a0a0a0","strokeWidth":1},"encoding":{"x":{"datum":1,"axis":null},"x2":{"datum":10000},"y":{"datum":100,"axis":null}}},
{"data":{"values":[{}]},"mark":{"type":"rule","color":"#222","strokeWidth":1},"encoding":{"x":{"datum":59,"axis":null},"x2":{"datum":10000},"y":{"datum":76,"axis":null}}},
{"data":{"values":[{}]},"mark":{"type":"rule","color":"#222","strokeWidth":1},"encoding":{"x":{"datum":59,"axis":null},"y":{"datum":73.3,"axis":null},"y2":{"datum":78.8}}},
{"data":{"values":[{}]},"mark":{"type":"text","text":"M1","fontSize":7,"color":"#444","align":"center","baseline":"alphabetic"},"encoding":{"x":{"datum":910,"axis":null},"y":{"datum":72.5,"axis":null}}},
{"data":{"values":[{}]},"mark":{"type":"text","text":"B","fontSize":21,"fontWeight":"bold","color":"#111","align":"center","baseline":"alphabetic"},"encoding":{"x":{"datum":0.484,"axis":null},"y":{"datum":108.1,"axis":null}}},
{"data":{"values":[{}]},"mark":{"type":"text","text":"Annexin V","fontSize":17,"fontWeight":"bold","color":"#111","align":"center","baseline":"alphabetic"},"encoding":{"x":{"datum":97,"axis":null},"y":{"datum":109.5,"axis":null}}},
{"data":{"values":[{}]},"mark":{"type":"text","text":"ALA concentration","fontSize":13,"color":"#e2232a","align":"left","baseline":"alphabetic"},"encoding":{"x":{"datum":132,"axis":null},"y":{"datum":61.4,"axis":null}}},
{"data":{"values":[{}]},"mark":{"type":"text","text":"0 µg/mL","fontSize":11.5,"color":"#d8202a","align":"left","baseline":"alphabetic"},"encoding":{"x":{"datum":132,"axis":null},"y":{"datum":46,"axis":null}}},
{"data":{"values":[{}]},"mark":{"type":"text","text":"1 µg/mL","fontSize":11.5,"color":"#ec4a25","align":"left","baseline":"alphabetic"},"encoding":{"x":{"datum":132,"axis":null},"y":{"datum":37.3,"axis":null}}},
{"data":{"values":[{}]},"mark":{"type":"text","text":"10 µg/mL","fontSize":11.5,"color":"#eadf22","align":"left","baseline":"alphabetic"},"encoding":{"x":{"datum":132,"axis":null},"y":{"datum":28.6,"axis":null}}},
{"data":{"values":[{}]},"mark":{"type":"text","text":"25 µg/mL","fontSize":11.5,"color":"#5db234","align":"left","baseline":"alphabetic"},"encoding":{"x":{"datum":132,"axis":null},"y":{"datum":20,"axis":null}}},
{"data":{"values":[{}]},"mark":{"type":"text","text":"100 µg/mL","fontSize":11.5,"color":"#2e3a94","align":"left","baseline":"alphabetic"},"encoding":{"x":{"datum":132,"axis":null},"y":{"datum":11.8,"axis":null}}}
]},
{"width":292,"height":158,
"layer":[
{"data":{"name":"h"},"transform":[{"filter":"datum.p=='D'"}],
"mark":{"type":"line","strokeWidth":1.3},
"encoding":{
"x":{"field":"x","type":"quantitative","scale":{"type":"log","domain":[1,10000],"nice":false,"range":[-9,283]},"axis":{"values":[1,2,3,4,5,6,7,8,9,10,20,30,40,50,60,70,80,90,100,200,300,400,500,600,700,800,900,1000,2000,3000,4000,5000,6000,7000,8000,9000,10000],"labelExpr":"datum.value==1?'10⁰':datum.value==10?'10¹':datum.value==100?'10²':datum.value==1000?'10³':datum.value==10000?'10⁴':''","tickSize":{"condition":{"test":"indexof([1,10,100,1000,10000],datum.value)>=0","value":4},"value":2},"labelOverlap":false,"labelFlush":false,"labelFontSize":10,"labelColor":"#333","labelPadding":2,"domainColor":"#444","tickColor":"#444","title":"Annexin V","titleFontSize":14,"titleFontWeight":"bold","titleColor":"#222","titlePadding":5}},
"y":{"field":"y","type":"quantitative","scale":{"domain":[0,100],"nice":false},"axis":{"offset":9,"values":[0,20,40,60,80,100],"tickSize":4,"labelAngle":-90,"labelAlign":"center","labelBaseline":"bottom","labelOverlap":false,"labelFontSize":10,"labelColor":"#333","labelPadding":2,"domainColor":"#444","tickColor":"#444","title":"Counts","titleFontSize":11,"titleFontWeight":"bold","titleColor":"#222","titlePadding":5}},
"color":{"field":"c","type":"nominal","scale":{"domain":["0","1","10","25","100"],"range":["#e41d25","#f0592a","#f4e61e","#5db234","#2e3a94"]},"legend":null}}},
{"data":{"values":[{}]},"mark":{"type":"rule","color":"#a0a0a0","strokeWidth":1},"encoding":{"x":{"datum":10000,"axis":null}}},
{"data":{"values":[{}]},"mark":{"type":"rule","color":"#222","strokeWidth":1},"encoding":{"x":{"datum":59,"axis":null},"x2":{"datum":10000},"y":{"datum":78.5,"axis":null}}},
{"data":{"values":[{}]},"mark":{"type":"rule","color":"#222","strokeWidth":1},"encoding":{"x":{"datum":59,"axis":null},"y":{"datum":75,"axis":null},"y2":{"datum":82}}},
{"data":{"values":[{}]},"mark":{"type":"text","text":"M1","fontSize":7,"color":"#444","align":"center","baseline":"alphabetic"},"encoding":{"x":{"datum":910,"axis":null},"y":{"datum":73,"axis":null}}},
{"data":{"values":[{}]},"mark":{"type":"text","text":"D","fontSize":21,"fontWeight":"bold","color":"#111","align":"center","baseline":"alphabetic"},"encoding":{"x":{"datum":0.484,"axis":null},"y":{"datum":106,"axis":null}}}
]},
{"width":292,"height":207,
"data":{"name":"bars"},"transform":[{"filter":"datum.p=='F'"}],
"title":{"text":"F","anchor":"start","frame":"group","fontSize":22,"fontWeight":"bold","color":"#111","dx":-41,"offset":-17,"baseline":"alphabetic"},
"mark":{"type":"bar"},
"encoding":{
"x":{"field":"a","type":"nominal","sort":["0","1","10","25","100"],"scale":{"paddingInner":0.42,"paddingOuter":0.21},"axis":{"title":"ALA (µg/mL)","titleFontSize":16,"titleFontWeight":"bold","titleColor":"#222","labelFontSize":12,"labelColor":"#333","labelAngle":0,"tickBand":"extent","tickSize":5,"labelPadding":7,"domainColor":"#999","tickColor":"#999","titlePadding":12}},
"xOffset":{"field":"g","type":"nominal","sort":["5-ALA","5-ALA + PVA (1:9)"]},
"y":{"field":"v","type":"quantitative","scale":{"domain":[0,20],"nice":false,"range":[207,13]},"axis":{"values":[0,2,4,6,8,10,12,14,16,18,20],"title":"Necrotic cells (%)","titleFontSize":14,"titleFontWeight":"bold","titleColor":"#222","labelFontSize":12,"labelColor":"#333","tickSize":4,"labelPadding":5,"domainColor":"#999","tickColor":"#999","titlePadding":9}},
"color":{"field":"g","type":"nominal","sort":["5-ALA","5-ALA + PVA (1:9)"],"scale":{"domain":["5-ALA","5-ALA + PVA (1:9)"],"range":["#4a7ebb","#c0504d"]},"legend":{"orient":"none","legendX":80,"legendY":47,"title":null,"symbolType":"square","symbolSize":64,"symbolStrokeWidth":0,"labelFontSize":14,"labelColor":"#222","rowPadding":10,"labelOffset":3}}}}
],"spacing":44,"bounds":"flush","resolve":{"scale":{"color":"independent"},"legend":{"color":"independent"}}}
]
}
